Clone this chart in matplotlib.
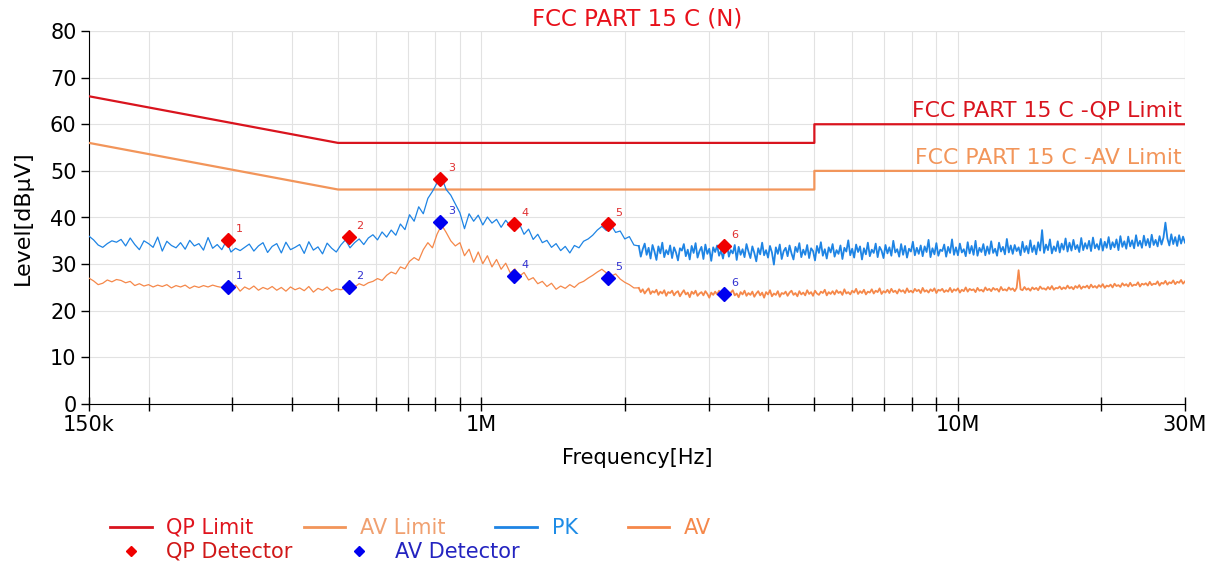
import matplotlib
matplotlib.use('Agg')
import matplotlib.pyplot as plt
import numpy as np
from matplotlib.lines import Line2D
from matplotlib.ticker import FixedLocator, NullFormatter

# Limites FCC parte 15 C (conducao)
limit_freq = [150e3, 500e3, 500e3, 5e6, 5e6, 30e6]
qp_limit = [66, 56, 56, 56, 60, 60]
av_limit = [56, 46, 46, 46, 50, 50]

# Varredura PK (dBuV), 150k - 2.09M
pk_low = [
    36.0, 35.2, 34.1, 33.6, 34.4, 35.0, 34.7, 35.3, 33.9, 35.6, 34.2, 33.1, 35.0, 34.4, 33.6, 35.8, 32.8, 34.9, 34.0, 33.5,
    34.6, 33.2, 35.1, 33.9, 34.4, 33.0, 35.7, 33.4, 34.2, 33.1, 35.0, 32.6, 33.4, 32.9, 33.6, 34.3, 32.8, 33.9, 34.6, 32.5,
    33.8, 34.4, 32.4, 34.7, 33.1, 33.6, 34.2, 32.3, 34.8, 33.0, 33.7, 32.2, 34.5, 33.4, 32.6, 34.1, 35.2, 33.5, 34.6, 35.4,
    34.2, 35.6, 36.3, 35.2, 36.9, 35.8, 37.3, 36.2, 38.6, 37.4, 40.6, 39.2, 42.3, 40.8, 44.1, 45.6, 47.4, 48.6, 46.0, 44.8,
    42.9, 41.0, 37.6, 40.8, 39.2, 40.5, 38.4, 40.1, 38.8, 39.6, 37.9, 39.4, 38.2, 37.2, 38.6, 36.4, 37.5, 35.3, 36.4, 34.6,
    35.1, 33.6, 34.4, 32.9, 33.8, 32.4, 34.0, 33.5, 34.9, 35.4, 36.2, 37.3, 38.1, 37.2, 38.4, 36.8, 37.1, 35.4, 35.9, 34.1,
]
# Varredura PK, 2.14M - 30M (faixa densa)
pk_high = [
    33.9, 31.6, 33.2, 34.4, 32.0, 33.5, 31.2, 34.1, 32.7, 30.9, 33.8, 32.3, 34.6, 31.5, 33.0, 32.1, 34.0, 31.3, 33.6, 32.5,
    30.8, 33.4, 32.9, 34.3, 31.7, 33.1, 31.0, 33.9, 32.4, 34.5, 31.4, 32.8, 33.7, 31.1, 34.2, 32.2, 33.3, 30.7, 33.6, 32.6,
    34.0, 31.8, 32.9, 31.2, 33.5, 34.4, 31.6, 33.0, 32.3, 34.1, 30.9, 33.7, 32.0, 33.2, 31.5, 34.3, 32.7, 31.3, 33.8, 32.4,
    30.6, 33.4, 32.1, 34.6, 31.9, 33.0, 31.4, 33.9, 32.5, 29.9, 33.6, 32.2, 34.2, 31.1, 32.8, 33.5, 31.7, 34.0, 32.3, 31.0,
    33.7, 32.6, 34.5, 31.5, 33.1, 32.0, 34.1, 31.3, 33.4, 32.8, 30.8, 33.9, 32.4, 34.7, 31.8, 33.2, 31.2, 33.6, 32.5, 34.3,
    31.6, 33.0, 32.2, 34.0, 31.1, 33.5, 32.7, 35.1, 31.9, 33.3, 31.4, 34.2, 32.6, 33.8, 31.0, 33.4, 32.1, 34.6, 31.7, 33.1,
    32.4, 34.4, 31.5, 33.7, 32.9, 31.3, 34.1, 32.3, 33.6, 31.8, 35.0, 32.5, 33.2, 31.6, 34.3, 32.0, 33.9, 31.4, 33.3, 32.7,
    34.8, 31.9, 33.5, 32.2, 34.0, 31.7, 33.8, 32.6, 35.2, 31.5, 33.4, 32.1, 34.5, 31.8, 33.1, 32.8, 34.2, 31.6, 33.7, 32.4,
    35.3, 32.0, 33.6, 31.9, 34.4, 32.5, 33.2, 31.7, 34.7, 32.3, 33.9, 32.0, 35.0, 31.8, 33.5, 32.6, 34.3, 31.9, 33.8, 32.2,
    34.9, 32.4, 33.3, 31.8, 34.6, 32.7, 33.7, 32.1, 35.4, 32.5, 34.0, 32.2, 34.1, 32.8, 33.6, 31.9, 34.8, 32.6, 33.9, 32.3,
    35.1, 32.6, 34.0, 32.1, 34.7, 32.9, 37.3, 32.4, 34.2, 33.0, 35.3, 32.3, 33.8, 32.8, 34.9, 32.5, 34.4, 33.1, 35.5, 32.7,
    34.6, 32.9, 35.2, 33.2, 34.1, 32.6, 35.6, 33.0, 34.5, 33.3, 35.0, 32.8, 35.7, 33.4, 34.3, 33.1, 35.4, 32.9, 34.8, 33.5,
    35.8, 33.2, 34.7, 33.6, 35.3, 33.0, 36.0, 33.7, 34.9, 33.3, 35.9, 33.8, 35.1, 33.4, 36.2, 33.9, 35.0, 33.5, 36.1, 34.0,
    35.4, 33.6, 36.3, 34.1, 35.2, 33.8, 36.0, 34.2, 35.7, 38.9, 35.5, 34.0, 36.4, 34.3, 35.8, 33.9, 36.2, 34.4, 35.9, 34.6,
]

# Varredura AV (dBuV), 150k - 2.09M
av_low = [
    27.0, 26.4, 25.6, 25.9, 26.6, 26.2, 26.7, 26.5, 26.0, 26.3, 25.4, 25.8, 25.3, 25.6, 25.1, 25.5, 25.2, 25.6, 24.9, 25.4,
    25.1, 25.5, 24.8, 25.3, 25.0, 25.4, 25.1, 25.5, 25.2, 25.0, 25.0, 24.3, 25.5, 24.2, 25.1, 24.6, 25.3, 24.4, 25.0, 24.6,
    25.2, 24.4, 25.0, 24.2, 25.1, 24.5, 24.9, 24.3, 25.2, 24.0, 24.8, 24.4, 25.1, 24.2, 24.7, 24.5, 24.9, 25.4, 25.1, 25.8,
    25.4, 26.0, 26.3, 26.9, 26.5, 27.6, 28.3, 27.9, 29.4, 29.0, 30.6, 31.4, 30.8, 33.1, 34.6, 33.5, 36.4, 38.4, 36.8, 35.0,
    33.9, 34.6, 31.8, 33.2, 30.4, 32.6, 30.1, 31.8, 29.4, 31.0, 28.9, 30.2, 28.1, 29.0, 27.4, 28.2, 26.6, 27.1, 25.8, 26.3,
    25.2, 25.9, 24.6, 25.3, 24.8, 25.6, 25.0, 25.9, 26.3, 27.0, 27.6, 28.3, 28.9, 28.1, 27.4, 27.9, 26.8, 26.1, 25.6, 24.9,
]
# Varredura AV, 2.14M - 30M
av_high = [
    24.9, 24.0, 24.6, 23.7, 24.3, 24.8, 23.6, 24.2, 23.9, 24.5, 23.4, 24.1, 23.7, 24.4, 23.2, 24.0, 23.8, 24.3, 23.3, 23.9,
    24.2, 23.1, 23.8, 24.4, 23.5, 23.9, 22.9, 24.1, 23.6, 24.3, 23.2, 23.7, 24.0, 23.3, 24.2, 23.6, 22.8, 23.9, 23.4, 24.1,
    23.5, 24.3, 23.0, 23.8, 23.6, 24.2, 23.1, 23.9, 24.4, 23.3, 23.7, 22.9, 24.0, 23.5, 24.3, 23.2, 23.8, 23.4, 24.1, 23.0,
    23.7, 24.2, 23.3, 23.9, 22.8, 24.0, 23.5, 24.4, 23.1, 23.7, 23.4, 24.2, 23.0, 23.8, 23.6, 24.1, 23.2, 23.9, 24.3, 23.4,
    23.8, 23.1, 24.2, 23.5, 23.9, 23.3, 24.4, 23.6, 24.0, 23.2, 24.3, 23.7, 23.4, 24.1, 23.8, 24.5, 23.3, 24.0, 23.6, 24.2,
    23.5, 24.4, 23.8, 24.1, 23.4, 24.6, 23.7, 24.0, 23.5, 24.3, 23.9, 24.7, 23.6, 24.2, 23.8, 24.5, 23.5, 24.1, 23.9, 24.6,
    23.7, 24.3, 24.0, 24.8, 23.6, 24.2, 23.9, 24.5, 23.8, 24.7, 24.0, 24.3, 23.7, 24.6, 24.1, 24.4, 23.8, 24.8, 24.0, 24.3,
    23.9, 24.7, 24.2, 24.5, 23.8, 24.9, 24.1, 24.4, 23.9, 24.6, 24.2, 24.8, 23.8, 24.5, 24.3, 24.7, 24.0, 24.4, 24.1, 24.9,
    24.0, 24.6, 24.3, 24.8, 23.9, 24.5, 24.2, 25.0, 24.1, 24.7, 24.4, 24.6, 24.0, 24.9, 24.3, 24.5, 24.1, 25.0, 24.4, 24.7,
    24.2, 24.9, 24.5, 24.7, 24.1, 25.1, 24.4, 24.6, 24.3, 25.0, 24.5, 24.8, 24.2, 24.9, 28.7, 24.6, 24.4, 25.1, 24.5, 24.8,
    24.3, 25.0, 24.6, 24.9, 24.4, 25.2, 24.7, 24.8, 24.5, 25.1, 24.6, 25.3, 24.5, 24.9, 24.8, 25.2, 24.6, 25.0, 24.7, 25.4,
    24.8, 25.1, 24.6, 25.3, 24.9, 25.5, 24.7, 25.2, 25.0, 25.4, 24.8, 25.6, 25.0, 25.3, 24.9, 25.5, 25.1, 25.7, 24.9, 25.4,
    25.2, 25.6, 25.0, 25.8, 25.3, 25.5, 25.1, 25.9, 25.4, 25.7, 25.2, 26.0, 25.3, 25.6, 25.5, 26.1, 25.2, 25.8, 25.6, 25.9,
    25.4, 26.2, 25.5, 25.8, 25.7, 26.3, 25.4, 26.0, 25.8, 26.4, 25.6, 26.1, 25.9, 26.5, 25.7, 26.2, 26.0, 26.6, 25.8, 26.3,
]

# Pontos medidos pelos detectores
det_freq = [0.294e6, 0.527e6, 0.819e6, 1.17e6, 1.84e6, 3.23e6]
qp_det = [35.1, 35.8, 48.2, 38.5, 38.5, 33.9]
av_det = [25.1, 25.0, 39.1, 27.4, 27.1, 23.5]
det_num = ['1', '2', '3', '4', '5', '6']

# pontos da varredura (passo logaritmico em cada faixa)
freq_low = np.geomspace(150e3, 2.09e6, len(pk_low))
freq_high = np.geomspace(2.14e6, 30e6, len(pk_high))

c_qp = '#D9141E'
c_avlim = '#F2955A'
c_pk = '#1E84E4'
c_av = '#F5884A'

plt.rcParams['font.family'] = 'DejaVu Sans'

fig = plt.figure(figsize=(12.26, 5.68), dpi=100)
ax = fig.add_axes([89 / 1226, 1 - 404 / 568, 1096 / 1226, 373 / 568])

ax.plot(limit_freq, qp_limit, color=c_qp, lw=1.6, zorder=3)
ax.plot(limit_freq, av_limit, color=c_avlim, lw=1.6, zorder=3)
# trecho baixo mais fino, trecho alto denso
ax.plot(np.append(freq_low, freq_high[0]), pk_low + pk_high[:1], color=c_pk, lw=0.9, zorder=4)
ax.plot(freq_high, pk_high, color=c_pk, lw=1.3, zorder=4)
ax.plot(np.append(freq_low, freq_high[0]), av_low + av_high[:1], color=c_av, lw=0.9, zorder=4)
ax.plot(freq_high, av_high, color=c_av, lw=1.3, zorder=4)

ax.plot(det_freq, qp_det, 'D', color='#F00000', ms=7, zorder=5, clip_on=False)
ax.plot(det_freq, av_det, 'D', color='#0000F0', ms=7, zorder=5, clip_on=False)
for f, q, a, n in zip(det_freq, qp_det, av_det, det_num):
    ax.annotate(n, (f, q), xytext=(8, 8), textcoords='offset points',
                ha='center', va='center', fontsize=8, color='#E03030', zorder=6)
    ax.annotate(n, (f, a), xytext=(8, 8), textcoords='offset points',
                ha='center', va='center', fontsize=8, color='#3030D0', zorder=6)

ax.text(0.997, 60.7, 'FCC PART 15 C -QP Limit', transform=ax.get_yaxis_transform(),
        ha='right', va='bottom', fontsize=15.8, color=c_qp)
ax.text(0.997, 50.7, 'FCC PART 15 C -AV Limit', transform=ax.get_yaxis_transform(),
        ha='right', va='bottom', fontsize=15.8, color=c_avlim)

ax.set_title('FCC PART 15 C (N)', fontsize=16.5, color='#E8101A', pad=3)

ax.set_xscale('log')
ax.set_xlim(150e3, 30e6)
ax.set_ylim(0, 80)
ax.xaxis.set_major_locator(FixedLocator([150e3, 1e6, 10e6, 30e6]))
ax.set_xticklabels(['150k', '1M', '10M', '30M'])
minor = [2e5, 3e5, 4e5, 5e5, 6e5, 7e5, 8e5, 9e5, 2e6, 3e6, 4e6, 5e6, 6e6, 7e6, 8e6, 9e6, 2e7]
ax.xaxis.set_minor_locator(FixedLocator(minor))
ax.xaxis.set_minor_formatter(NullFormatter())
ax.set_yticks(range(0, 81, 10))

ax.tick_params(axis='x', which='both', direction='inout', length=10, width=1, labelsize=15, pad=3)
ax.tick_params(axis='y', direction='out', length=6, width=1, labelsize=15, pad=3)
ax.grid(True, which='both', color='#E2E2E2', linewidth=0.8)
ax.set_axisbelow(True)
for s in ['top', 'right']:
    ax.spines[s].set_visible(False)
ax.axhline(80, color='#E2E2E2', lw=0.8, zorder=0)
ax.axvline(30e6, color='#E2E2E2', lw=0.8, zorder=0)

ax.set_xlabel('Frequency[Hz]', fontsize=15, labelpad=9)
ax.set_ylabel('Level[dBμV]', fontsize=16, labelpad=12)

# legenda em duas linhas
row1 = [Line2D([], [], color=c_qp, lw=2), Line2D([], [], color=c_avlim, lw=2),
        Line2D([], [], color=c_pk, lw=2), Line2D([], [], color=c_av, lw=2)]
leg1 = fig.legend(row1, ['QP Limit', 'AV Limit', 'PK', 'AV'], loc='center left',
                  bbox_to_anchor=(110 / 1226, 1 - 528 / 568), ncol=4, frameon=False,
                  fontsize=15, handlelength=2.0, handletextpad=0.7, columnspacing=2.4,
                  borderpad=0, borderaxespad=0,
                  labelcolor=['#E0141E', '#F0A070', '#1E8CE6', '#F5884A'])
row2 = [Line2D([], [], ls='none', marker='D', color='#F00000', ms=5),
        Line2D([], [], ls='none', marker='D', color='#0000F0', ms=5)]
leg2 = fig.legend(row2, ['QP Detector', 'AV Detector'], loc='center left',
                  bbox_to_anchor=(110 / 1226, 1 - 552 / 568), ncol=2, frameon=False,
                  fontsize=15, handlelength=2.0, handletextpad=0.7, columnspacing=2.2,
                  borderpad=0, borderaxespad=0,
                  labelcolor=['#D01818', '#2424C0'])

fig.savefig('out.png', dpi=100)
